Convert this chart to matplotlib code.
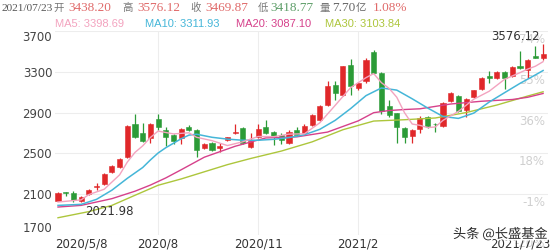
import numpy as np
import pandas as pd
import matplotlib
matplotlib.use("Agg")
import matplotlib.pyplot as plt
import matplotlib.patheffects as pe

# Weekly candles, 2020/5/8 .. 2021/7/23 =========================
weeks = pd.date_range("2020-05-08", periods=64, freq="W-FRI")

opens = [2037, 2122, 2113, 2034, 2100, 2172, 2205, 2320, 2365, 2467,
         2786, 2704, 2648, 2835, 2730, 2681, 2648, 2763, 2730, 2556,
         2605, 2549, 2632, 2697, 2753, 2566, 2664, 2756, 2714, 2681,
         2599, 2730, 2697, 2779, 2828, 2976, 3173, 3075, 3370, 3140,
         3206, 3495, 3288, 2966, 2894, 2746, 2671, 2737, 2861, 2790,
         2769, 3016, 3058, 2927, 3052, 3134, 3262, 3239, 3298, 3255,
         3360, 3321, 3459, 3438.20]
highs = [2122, 2125, 2132, 2080, 2152, 2211, 2310, 2382, 2455, 2775,
         2888, 2802, 2802, 2884, 2756, 2690, 2750, 2775, 2740, 2600,
         2610, 2599, 2665, 2786, 2760, 2704, 2789, 2829, 2720, 2704,
         2725, 2763, 2790, 2890, 2970, 3206, 3206, 3360, 3426, 3200,
         3430, 3510, 3295, 3025, 2900, 2763, 2740, 2862, 2870, 2802,
         3000, 3100, 3075, 3040, 3125, 3250, 3305, 3305, 3305, 3355,
         3501, 3420, 3557, 3576.12]
lows = [2030, 2080, 2028, 2021.98, 2095, 2146, 2195, 2312, 2355, 2460,
        2648, 2615, 2605, 2730, 2572, 2592, 2592, 2720, 2467, 2545,
        2525, 2516, 2625, 2690, 2590, 2549, 2655, 2690, 2582, 2592,
        2590, 2670, 2690, 2770, 2815, 2965, 3025, 3060, 3075, 3120,
        3190, 3280, 2888, 2855, 2599, 2605, 2599, 2697, 2750, 2714,
        2760, 3000, 2910, 2861, 3040, 3125, 3190, 3230, 3130, 3245,
        3330, 3239, 3430, 3418.77]
closes = [2116, 2109, 2040, 2073, 2146, 2182, 2303, 2375, 2444, 2769,
          2658, 2625, 2786, 2756, 2664, 2622, 2740, 2730, 2533, 2589,
          2533, 2572, 2658, 2710, 2599, 2625, 2737, 2697, 2664, 2632,
          2714, 2681, 2769, 2878, 2960, 3157, 3091, 3354, 3157, 3190,
          3419, 3288, 2911, 2878, 2756, 2664, 2730, 2845, 2769, 2785,
          2993, 3091, 2920, 3032, 3117, 3239, 3239, 3298, 3239, 3344,
          3337, 3413, 3436, 3469.87]

# moving average lines (week index -> value)
ma5_idx = [0, 3, 4, 6, 8, 9, 10, 11, 12, 13, 15, 17, 18, 20, 22, 24, 26, 28, 30,
           32, 34, 36, 38, 40, 41, 42, 43, 44, 45, 46, 47, 48, 49, 50, 52, 54,
           56, 58, 60, 61, 62, 63]
ma5 = [2024, 2045, 2097, 2149, 2290, 2415, 2510, 2574, 2656, 2719, 2691, 2702,
       2658, 2625, 2577, 2614, 2666, 2664, 2689, 2692, 2800, 2971, 3144, 3242,
       3282, 3193, 3137, 3050, 2899, 2788, 2775, 2753, 2759, 2824, 2912, 3031,
       3109, 3226, 3291, 3326, 3354, 3398.69]
ma10_idx = [0, 3, 5, 7, 9, 11, 12, 13, 14, 15, 16, 17, 18, 20, 22, 24, 26, 28,
            30, 32, 34, 36, 38, 40, 42, 44, 46, 48, 50, 52, 54, 56, 58, 60, 62, 63]
ma10 = [1991, 2001, 2050, 2140, 2256, 2362, 2436, 2504, 2556, 2600, 2644, 2679,
        2688, 2658, 2640, 2629, 2629, 2638, 2655, 2683, 2736, 2824, 2939, 3066,
        3141, 3120, 3035, 2945, 2862, 2843, 2895, 3003, 3095, 3186, 3269, 3311.93]
ma20_idx = [0, 3, 5, 7, 10, 12, 14, 16, 19, 23, 27, 31, 35, 39, 41, 43, 45, 47,
            51, 55, 59, 61, 63]
ma20 = [1975, 1991, 2024, 2057, 2130, 2190, 2260, 2340, 2463, 2570, 2652, 2662,
        2709, 2819, 2899, 2920, 2930, 2937, 2984, 3011, 3028, 3050, 3087.10]
ma30_idx = [0, 4, 7, 10, 13, 16, 19, 22, 25, 29, 33, 37, 41, 45, 49, 53, 57, 61, 63]
ma30 = [1870, 1930, 1991, 2090, 2188, 2250, 2320, 2390, 2450, 2523, 2613, 2732,
        2817, 2830, 2847, 2900, 2974, 3062, 3103.84]

y_ticks = [1700, 2100, 2500, 2900, 3300, 3700]
pct_labels = ["-20%", "-1%", "18%", "36%", "55%", "74%"]
x_tick_dates = ["2020-08-07", "2020-11-06", "2021-02-05"]
x_tick_labels = ["2020/8", "2020/11", "2021/2"]

# colours
RED = "#e0282a"
GREEN = "#2b9b37"
C_MA5, C_MA10, C_MA20, C_MA30 = "#f3a3bf", "#45b6d8", "#d6418b", "#adc63c"

# Figure ===========================================
fig = plt.figure(figsize=(5.54, 2.5), dpi=100)
W, H = 554.0, 250.0
ax = fig.add_axes([55 / W, 14.9 / H, 493 / W, 204.2 / H])
ax.set_xlim(-3 / 7.7, -3 / 7.7 + 493 / 7.7)
ax.set_ylim(1700, 3700)

for s in ax.spines.values():
    s.set_visible(False)

# grid
for v in y_ticks:
    ax.axhline(v, color="#ededed", lw=0.8, zorder=0)
xt = [weeks.get_loc(pd.Timestamp(d)) for d in x_tick_dates]
for v in xt:
    ax.axvline(v, color="#ededed", lw=0.8, zorder=0)

# right-hand percent labels (sit under the candles)
for v, t in zip(y_ticks, pct_labels):
    ax.annotate(t, xy=(1, v), xycoords=("axes fraction", "data"),
                xytext=(-3, -2), textcoords="offset pixels",
                ha="right", va="top", fontsize=8.5, color="#cfcfcf", zorder=0.5)

# candles
x = np.arange(len(closes))
o = np.array(opens); c = np.array(closes)
up = c >= o
cols = np.where(up, RED, GREEN)
ax.vlines(x, lows, highs, colors=cols, lw=0.9, zorder=2)
ax.bar(x, np.abs(c - o), bottom=np.minimum(o, c), width=0.66, color=cols,
       edgecolor=cols, linewidth=0.4, zorder=3)

# MA lines
ax.plot(ma30_idx, ma30, color=C_MA30, lw=1.0, zorder=4)
ax.plot(ma20_idx, ma20, color=C_MA20, lw=1.0, zorder=4)
ax.plot(ma10_idx, ma10, color=C_MA10, lw=1.1, zorder=4)
ax.plot(ma5_idx, ma5, color=C_MA5, lw=1.0, zorder=4)

# high / low markers
i_lo = int(np.argmin(lows))
i_hi = int(np.argmax(highs))
ax.annotate("%.2f" % lows[i_lo], xy=(i_lo, lows[i_lo]), xytext=(4, -9),
            textcoords="offset pixels", ha="left", va="center",
            fontsize=8.5, color="#333333", zorder=6)
ax.annotate("%.2f" % highs[i_hi], xy=(i_hi, highs[i_hi]), xytext=(-3, 7),
            textcoords="offset pixels", ha="right", va="center",
            fontsize=8.5, color="#333333", zorder=6)

# axis labels
ax.set_yticks(y_ticks)
ax.set_yticklabels([str(v) for v in y_ticks], fontsize=8.5, color="#444444")
ax.tick_params(axis="y", length=0, pad=2)
ylabs = ax.get_yticklabels()
ylabs[0].set_va("bottom")
ylabs[-1].set_va("top")
ax.set_xticks([])

lab_y = -(244 - 235.1) / 204.2
tr = ax.get_xaxis_transform()
ax.text(-3 / 7.7, lab_y, weeks[0].strftime("%Y/%-m/%-d"), transform=tr,
        ha="left", va="center", fontsize=8.5, color="#333333", clip_on=False)
for v, t in zip(xt, x_tick_labels):
    ax.text(v, lab_y, t, transform=tr, ha="center", va="center",
            fontsize=8.5, color="#333333", clip_on=False)
ax.text(63.9, lab_y, weeks[-1].strftime("%Y/%-m/%-d"), transform=tr,
        ha="right", va="center", fontsize=8.5, color="#333333", clip_on=False)

# header line 1
hy = 1 - 8.3 / H
serif = ["Liberation Serif", "Noto Sans CJK SC"]
cjk = ["Noto Sans CJK SC", "DejaVu Sans"]
head = [(1, "2021/07/23", "#555555", serif, 8.2),
        (53, "开", "#777777", cjk, 7.5), (68, "%.2f" % opens[-1], "#e06a6a", serif, 9.5),
        (122, "高", "#777777", cjk, 7.5), (137, "%.2f" % highs[-1], "#e06a6a", serif, 9.5),
        (190, "收", "#777777", cjk, 7.5), (205, "%.2f" % closes[-1], "#e06a6a", serif, 9.5),
        (258, "低", "#777777", cjk, 7.5), (270, "%.2f" % lows[-1], "#5f9f6a", serif, 9.5),
        (319, "量", "#777777", cjk, 7.5), (332, "7.70", "#666666", serif, 9.5),
        (356, "亿", "#666666", cjk, 7.5), (373, "1.08%", "#e06a6a", serif, 9.5)]
for px, t, col, fam, fs in head:
    fig.text(px / W, hy, t, ha="left", va="center", color=col,
             family=fam, fontsize=fs)

# header line 2: MA legend
ly = 1 - 24 / H
for px, t, col in [(55, "MA5: %.2f" % ma5[-1], C_MA5),
                   (145, "MA10: %.2f" % ma10[-1], C_MA10),
                   (236, "MA20: %.2f" % ma20[-1], C_MA20),
                   (325, "MA30: %.2f" % ma30[-1], C_MA30)]:
    fig.text(px / W, ly, t, ha="left", va="center", color=col,
             family="Liberation Sans", fontsize=8)

# watermark
fig.text(548 / W, 1 - 234 / H, "头条 @长盛基金", ha="right", va="center",
         family=["Noto Sans CJK SC", "DejaVu Sans"], fontsize=9.5,
         color="#2a2a2a", zorder=10,
         path_effects=[pe.withStroke(linewidth=2.5, foreground="white")])

fig.savefig("out.png", dpi=100)
